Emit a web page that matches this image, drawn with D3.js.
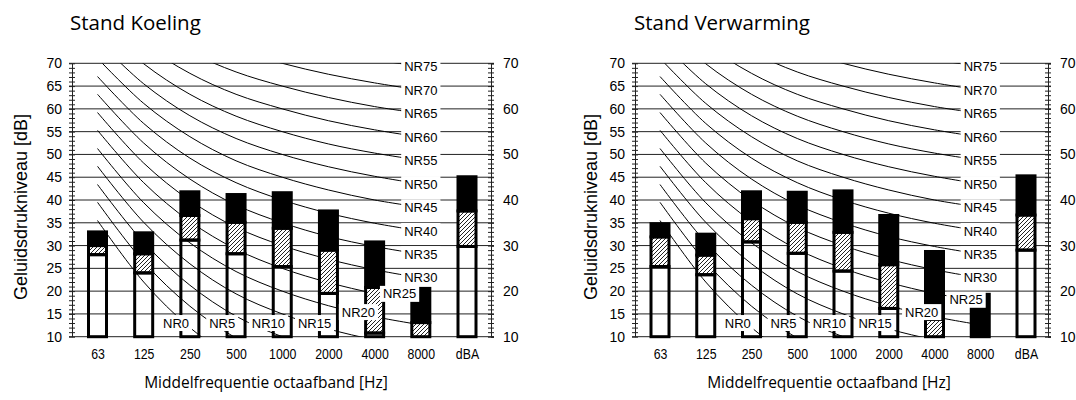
<!DOCTYPE html>
<html><head><meta charset="utf-8">
<script src="https://cdn.jsdelivr.net/npm/d3@7/dist/d3.min.js"></script>
<style>body{margin:0;background:#fff} svg{display:block}</style>
</head><body><svg id="c" width="1076" height="400"></svg>
<script>
// ---------- data ----------
const categories = ["63","125","250","500","1000","2000","4000","8000","dBA"];
const nrFreqs = ["63","125","250","500","1000","2000","4000","8000"];
const nrLevels = [0,5,10,15,20,25,30,35,40,45,50,55,60,65,70,75];
const nrCurves = [
  [35.5, 22.0, 12.0,  4.8,  0, -3.5, -6.1, -8.0],
  [39.5, 26.4, 16.7,  9.7,  5,  1.6, -1.0, -2.9],
  [43.4, 30.7, 21.3, 14.5, 10,  6.7,  4.2,  2.3],
  [47.4, 35.1, 26.0, 19.4, 15, 11.7,  9.3,  7.5],
  [51.3, 39.4, 30.6, 24.3, 20, 16.8, 14.4, 12.6],
  [55.3, 43.8, 35.3, 29.2, 25, 21.9, 19.5, 17.8],
  [59.2, 48.1, 39.9, 34.0, 30, 27.0, 24.7, 22.9],
  [63.2, 52.5, 44.6, 38.9, 35, 32.0, 29.8, 28.1],
  [67.1, 56.8, 49.2, 43.8, 40, 37.1, 34.9, 33.2],
  [71.1, 61.2, 53.9, 48.6, 45, 42.2, 40.0, 38.4],
  [75.0, 65.5, 58.5, 53.5, 50, 47.3, 45.2, 43.5],
  [79.0, 69.9, 63.2, 58.4, 55, 52.3, 50.3, 48.7],
  [82.9, 74.2, 67.8, 63.2, 60, 57.4, 55.4, 53.8],
  [86.9, 78.6, 72.5, 68.1, 65, 62.5, 60.5, 59.0],
  [90.8, 82.9, 77.1, 73.0, 70, 67.6, 65.7, 64.1],
  [94.8, 87.3, 81.8, 77.9, 75, 72.6, 70.8, 69.3]
];
// Stand Koeling: top of white, hatched and black part of each bar (dB)
const koelingWhite = [28.0, 24.0, 31.2, 28.2, 25.4, 19.5, 10.8, 10.0, 29.8];
const koelingHatch = [30.0, 28.2, 36.6, 35.1, 33.8, 29.0, 20.8, 13.1, 37.6];
const koelingBlack = [33.0, 32.8, 41.8, 41.2, 41.6, 37.6, 30.8, 20.6, 45.1];
// Stand Verwarming
const verwarmingWhite = [25.4, 23.6, 30.8, 28.3, 24.4, 16.2, 10.0, 10.0, 29.0];
const verwarmingHatch = [31.9, 27.9, 35.9, 35.1, 32.9, 25.8, 13.8, 10.0, 36.7];
const verwarmingBlack = [34.8, 32.5, 41.8, 41.7, 42.0, 36.6, 28.7, 19.3, 45.3];
// NR label anchors (category index, dB) for labels not at the 8000 Hz end
const koelingLabelIdx = [1.7, 2.7, 3.7, 4.7, 5.65, 6.54];
const koelingLabelDb  = [13, 13, 13, 13, 15.4, 19.4];
const verwarmingLabelIdx = [1.7, 2.7, 3.7, 4.7, 5.72, 6.69];
const verwarmingLabelDb  = [13, 13, 13, 13, 15.4, 18.1];
const yTicksLeft = [10,15,20,25,30,35,40,45,50,55,60,65,70];
const yTicksRight = [10,20,30,40,50,60,70];
const titles = ["Stand Koeling", "Stand Verwarming"];
const yTitle = "Geluidsdrukniveau [dB]";
const xTitle = "Middelfrequentie octaafband [Hz]";

// ---------- drawing ----------
const svg = d3.select("#c");
const defs = svg.append("defs");
const pat = defs.append("pattern").attr("id","hatch").attr("patternUnits","userSpaceOnUse")
  .attr("width",4).attr("height",4);
pat.append("rect").attr("width",4).attr("height",4).attr("fill","#fff");
pat.append("path").attr("d","M-1,1 L1,-1 M0,4 L4,0 M3,5 L5,3")
  .attr("stroke","#222").attr("stroke-width",1);

const charts = [
  {title: titles[0], white: koelingWhite, hatch: koelingHatch, black: koelingBlack,
   lIdx: koelingLabelIdx, lDb: koelingLabelDb,
   left: 72, right: 491, first: 97.5, last: 467, titleX: 70, yTitleX: 21, xTitleX: 266},
  {title: titles[1], white: verwarmingWhite, hatch: verwarmingHatch, black: verwarmingBlack,
   lIdx: verwarmingLabelIdx, lDb: verwarmingLabelDb,
   left: 635, right: 1048, first: 660, last: 1026, titleX: 634, yTitleX: 591, xTitleX: 829}
];

const y = d3.scaleLinear().domain([10,70]).range([336.7, 63.3]);
const sans = "'Liberation Sans', Arial, sans-serif";
const titleFont = "'Open Sans', sans-serif";

charts.forEach((c, ci) => {
  const g = svg.append("g");
  const x = d3.scalePoint().domain(categories).range([c.first, c.last]);
  const step = x.step();
  const xi = i => c.first + i * step;

  const cid = "clip" + ci;
  defs.append("clipPath").attr("id", cid).append("rect")
    .attr("x", c.left).attr("y", y(70)).attr("width", c.right - c.left).attr("height", y(10) - y(70));

  // gridlines
  g.append("g").selectAll("line").data(yTicksLeft).join("line")
    .attr("x1", c.left - 3).attr("x2", c.right + 3)
    .attr("y1", d => y(d)).attr("y2", d => y(d))
    .attr("stroke", "#222").attr("stroke-width", 1);

  // NR curves
  const line = d3.line().x((d, i) => x(nrFreqs[i])).y(d => y(d)).curve(d3.curveCatmullRom.alpha(0.5));
  g.append("g").attr("clip-path", `url(#${cid})`).selectAll("path").data(nrCurves).join("path")
    .attr("d", line).attr("fill", "none").attr("stroke", "#000").attr("stroke-width", 1);

  // axes
  const axL = g.append("g").attr("transform", `translate(${c.left},0)`);
  axL.call(d3.axisLeft(y).tickValues(yTicksLeft).tickSize(0).tickPadding(10).tickFormat(d3.format("d")));
  axL.call(a => a.select(".domain").attr("stroke", "#222"));
  axL.selectAll("text").attr("font-family", sans).attr("font-size", 14).attr("fill", "#000");
  [3, -3].forEach(s => g.append("g").attr("transform", `translate(${c.left},0)`)
    .call(d3.axisLeft(y).tickValues(d3.range(10, 71)).tickSize(s).tickFormat(""))
    .call(a => a.select(".domain").remove()).selectAll("line").attr("stroke", "#222"));

  const axR = g.append("g").attr("transform", `translate(${c.right},0)`);
  axR.call(d3.axisRight(y).tickValues(yTicksRight).tickSize(3).tickPadding(9).tickFormat(d3.format("d")));
  axR.call(a => a.select(".domain").attr("stroke", "#222"));
  axR.selectAll("line").attr("stroke", "#222");
  axR.selectAll("text").attr("font-family", sans).attr("font-size", 14).attr("fill", "#000");
  [3, -3].forEach(s => g.append("g").attr("transform", `translate(${c.right},0)`)
    .call(d3.axisRight(y).tickValues(d3.range(10, 71)).tickSize(s).tickFormat(""))
    .call(a => a.select(".domain").remove()).selectAll("line").attr("stroke", "#222"));

  // x tick labels
  const axB = g.append("g").attr("transform", `translate(0,${y(10)})`);
  axB.call(d3.axisBottom(x).tickSize(0).tickPadding(12));
  axB.select(".domain").remove();
  axB.selectAll("text").attr("font-family", sans).attr("font-size", 14).attr("fill", "#000")
    .attr("transform", "scale(0.88,1)");

  // bars
  const bw = 18;
  const bars = g.append("g");
  categories.forEach((cat, i) => {
    const cx = x(cat);
    const segs = [
      {lo: c.white[i], hi: c.hatch[i], fill: "url(#hatch)"},
      {lo: c.hatch[i], hi: c.black[i], fill: "#000"},
      {lo: 10, hi: c.white[i], fill: "none"}
    ].filter(s => s.hi - s.lo > 0.05);
    bars.selectAll(null).data(segs).join("rect")
      .attr("x", cx - bw / 2).attr("width", bw)
      .attr("y", s => y(s.hi)).attr("height", s => y(s.lo) - y(s.hi))
      .attr("fill", s => s.fill).attr("stroke", "#000").attr("stroke-width", 3);
  });

  // NR labels
  const lab = g.append("g");
  nrLevels.forEach((n, k) => {
    let lx, ly;
    if (k < c.lIdx.length) { lx = xi(c.lIdx[k]); ly = y(c.lDb[k]); }
    else { lx = x("8000"); ly = y(nrCurves[k][7]); }
    const bg = lab.append("rect").attr("fill", "#fff");
    const t = lab.append("text").attr("x", lx).attr("y", ly).attr("dy", "0.35em")
      .attr("text-anchor", "middle").attr("font-family", sans).attr("font-size", 13)
      .attr("fill", "#000").text("NR" + n);
    const w = t.node().getComputedTextLength();
    bg.attr("x", lx - w / 2 - 3).attr("width", w + 6).attr("y", ly - 8).attr("height", 16);
  });

  // titles
  g.append("text").attr("x", c.titleX).attr("y", 30).attr("font-family", titleFont)
    .attr("font-size", 20.5).attr("fill", "#000").text(c.title);
  g.append("text").attr("transform", `translate(${c.yTitleX},${207}) rotate(-90)`)
    .attr("text-anchor", "middle").attr("dy", "0.35em").attr("font-family", sans)
    .attr("font-size", 18).attr("fill", "#000").text(yTitle);
  g.append("text").attr("x", c.xTitleX).attr("y", 388).attr("text-anchor", "middle")
    .attr("font-family", titleFont).attr("font-size", 15.5).attr("fill", "#000").text(xTitle);
});
</script></body></html>
